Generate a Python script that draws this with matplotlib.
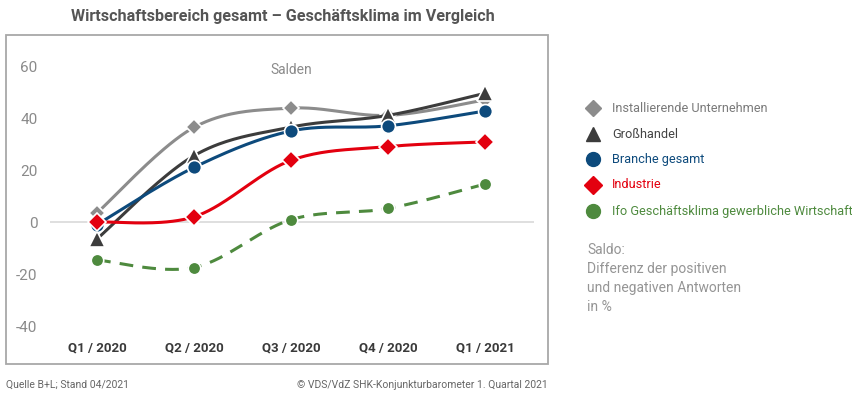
import numpy as np
import matplotlib
matplotlib.use("Agg")
import matplotlib.pyplot as plt
from matplotlib.patches import Rectangle
from matplotlib.lines import Line2D

categories = ["Q1 / 2020", "Q2 / 2020", "Q3 / 2020", "Q4 / 2020", "Q1 / 2021"]
installierende = [3.5, 36.4, 43.8, 41.0, 47.0]
grosshandel = [-6.5, 25.5, 36.5, 41.0, 49.5]
branche = [-1.0, 21.0, 35.0, 37.0, 42.7]
industrie = [0.0, 2.0, 23.7, 29.0, 30.8]
ifo = [-14.6, -17.5, 0.9, 5.2, 14.6]
series_names = ["Installierende Unternehmen", "Großhandel", "Branche gesamt",
                "Industrie", "Ifo Geschäftsklima gewerbliche Wirtschaft"]
yticks = [-40, -20, 0, 20, 40, 60]

W, H = 853, 399
fig = plt.figure(figsize=(W / 100, H / 100), dpi=100)
fig.patch.set_facecolor("white")

def fx(px):
    return px / W

def fy(py):
    return 1 - py / H

COND = ["Roboto", "DejaVu Sans"]
LIGHT = ["Roboto", "DejaVu Sans"]

# frame
fig.patches.append(Rectangle((fx(6), fy(364)), fx(548) - fx(6), fy(35) - fy(364),
                             transform=fig.transFigure, fill=False,
                             edgecolor="#a8a8a8", linewidth=1.3))

ax_l, ax_r, ax_t, ax_b = 50, 534, 66, 326
ax = fig.add_axes([fx(ax_l), fy(ax_b), fx(ax_r) - fx(ax_l), fy(ax_t) - fy(ax_b)])
x = np.arange(len(categories))
ax.set_xlim((ax_l - 97) / 97, (ax_r - 97) / 97)
ax.set_ylim(-40, 60)
for s in ax.spines.values():
    s.set_visible(False)
ax.set_facecolor("none")
ax.axhline(0, color="#d9d9d9", lw=1.2, zorder=1)
ax.set_yticks(yticks)
ax.set_yticklabels([str(v) for v in yticks], family=LIGHT, fontsize=11,
                   color="#8a8a8a")
ax.set_xticks(x)
ax.set_xticklabels(categories, family=COND, fontsize=9.5, fontweight="bold",
                   color="#3a3a3a")
ax.tick_params(axis="y", length=0, pad=9)
ax.tick_params(axis="x", length=0, pad=11)


def smooth(xs, ys, n=40):
    xs = np.asarray(xs, float)
    ys = np.asarray(ys, float)
    P = np.column_stack([xs, ys])
    out = []
    for i in range(len(P) - 1):
        p0 = P[i - 1] if i > 0 else P[i]
        p1 = P[i]
        p2 = P[i + 1]
        p3 = P[i + 2] if i + 2 < len(P) else P[i + 1]
        c1 = p1 + (p2 - p0) / 6
        c2 = p2 - (p3 - p1) / 6
        t = np.linspace(0, 1, n)[:, None]
        seg = ((1 - t) ** 3) * p1 + 3 * ((1 - t) ** 2) * t * c1 + 3 * (1 - t) * t ** 2 * c2 + t ** 3 * p2
        out.append(seg if i == 0 else seg[1:])
    c = np.vstack(out)
    return c[:, 0], c[:, 1]

styles = [
    (installierende, "#8c8c8c", "D", 8.5, "-", 2),
    (ifo, "#4e8a3e", "o", 9, (0, (4.5, 3)), 3),
    (grosshandel, "#3c3c3c", "^", 12, "-", 4),
    (branche, "#0d4a7c", "o", 10, "-", 5),
    (industrie, "#e3000f", "D", 9, "-", 6),
]
for vals, col, mk, ms, ls, z in styles:
    sx, sy = smooth(x, vals)
    ax.plot(sx, sy, color=col, lw=2.2, ls=ls, zorder=z, solid_capstyle="round")
    ax.plot(x, vals, ls="none", marker=mk, ms=ms, color=col, mec="white",
            mew=1.2, zorder=z + 0.5, clip_on=False)

ax.text(2, 58.5, "Salden", ha="center", va="center", family=LIGHT,
        fontsize=10, color="#8a8a8a")

# title
fig.text(fx(283), fy(16), "Wirtschaftsbereich gesamt – Geschäftsklima im Vergleich",
         ha="center", va="center", family=COND, fontweight="bold",
         fontsize=11.6, color="#555555")

# legend
leg = [
    (series_names[0], "#8c8c8c", "D", 8, "#7a7a7a"),
    (series_names[1], "#3c3c3c", "^", 10, "#444444"),
    (series_names[2], "#0d4a7c", "o", 10, "#0d4a7c"),
    (series_names[3], "#e3000f", "D", 9, "#e3000f"),
    (series_names[4], "#4e8a3e", "o", 10, "#4e8a3e"),
]
ys = [108, 134, 159, 185, 211]
for (name, col, mk, ms, tc), yy in zip(leg, ys):
    fig.add_artist(Line2D([fx(593)], [fy(yy)], marker=mk, ms=ms, color=col,
                          ls="none", transform=fig.transFigure))
    fig.text(fx(612), fy(yy), name, ha="left", va="center", family=COND,
             fontsize=9.2, color=tc)

for i, line in enumerate(["Saldo:", "Differenz der positiven",
                          "und negativen Antworten", "in %"]):
    fig.text(fx(587), fy(250 + i * 19), line, ha="left", va="center",
             family=LIGHT, fontsize=10, color="#959595")

fig.text(fx(6), fy(385), "Quelle B+L; Stand 04/2021", ha="left", va="center",
         family=LIGHT, fontsize=7.5, color="#666666")
fig.text(fx(548), fy(385), "© VDS/VdZ SHK-Konjunkturbarometer 1. Quartal 2021",
         ha="right", va="center", family=LIGHT, fontsize=7.5, color="#666666")

fig.savefig("out.png", dpi=100, facecolor="white")
